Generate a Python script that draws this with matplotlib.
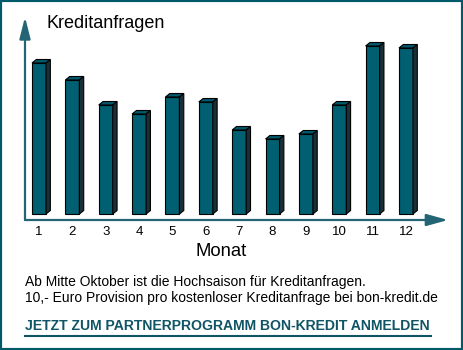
import matplotlib.pyplot as plt
from matplotlib.patches import Polygon, Rectangle
import numpy as np

plt.rcParams['font.family'] = ['Liberation Sans', 'DejaVu Sans']

months = [1, 2, 3, 4, 5, 6, 7, 8, 9, 10, 11, 12]
anfragen = [151, 134, 109, 100, 117, 112, 84, 75, 80, 109, 168, 166]

teal = "#005f70"
side = "#1b2f38"
top = "#00586a"
axis_col = "#236575"

W, H = 463, 350
fig = plt.figure(figsize=(W / 100, H / 100), dpi=100)
fig.patch.set_facecolor("white")

def fx(px):
    return px / W

def fy(py):
    return 1 - py / H

# chart area, pixel box 25..448 x 17..220
ax = fig.add_axes([fx(25), fy(220), fx(448) - fx(25), fy(17) - fy(220)])
ax.set_xlim(0.58, 13.26)
ax.set_ylim(-6, 197)
for s in ax.spines.values():
    s.set_visible(False)
ax.set_yticks([])
ax.set_xticks(months)
ax.set_xticklabels([str(m) for m in months], fontsize=9.5)
ax.tick_params(axis="x", length=0, pad=4)

w = 0.42
dx = 0.13
dy = 3.5
for m, v in zip(months, anfragen):
    x0 = m - w / 2
    ax.add_patch(Rectangle((x0, 0), w, v, facecolor=teal, edgecolor="black", lw=0.8))
    ax.add_patch(Polygon([(x0, v), (x0 + w, v), (x0 + w + dx, v + dy), (x0 + dx, v + dy)],
                         closed=True, facecolor=top, edgecolor="black", lw=0.8))
    ax.add_patch(Polygon([(x0 + w, 0), (x0 + w + dx, dy), (x0 + w + dx, v + dy), (x0 + w, v)],
                         closed=True, facecolor=side, edgecolor="black", lw=0.8))

# axes with arrows
ax.annotate("", xy=(1, 0), xytext=(0, 0), xycoords="axes fraction",
            arrowprops=dict(arrowstyle="-|>,head_length=13,head_width=3.6", mutation_scale=1,
                            color=axis_col, lw=1.6, shrinkA=0, shrinkB=0))
ax.annotate("", xy=(0, 1), xytext=(0, 0), xycoords="axes fraction",
            arrowprops=dict(arrowstyle="-|>,head_length=13,head_width=3.3", mutation_scale=1,
                            color=axis_col, lw=1.6, shrinkA=0, shrinkB=0))

fig.text(fx(46), fy(23), "Kreditanfragen", fontsize=13, va="center", ha="left")
fig.text(fx(221), fy(252), "Monat", fontsize=13.3, va="center", ha="center")
fig.text(fx(25), fy(282), "Ab Mitte Oktober ist die Hochsaison für Kreditanfragen.",
         fontsize=10, va="center", ha="left")
fig.text(fx(25), fy(298), "10,- Euro Provision pro kostenloser Kreditanfrage bei bon-kredit.de",
         fontsize=10, va="center", ha="left")
fig.text(fx(25), fy(326), "JETZT ZUM PARTNERPROGRAMM BON-KREDIT ANMELDEN",
         fontsize=10.1, fontweight="bold", color="#0f5565", va="center", ha="left")
fig.add_artist(plt.Line2D([fx(25), fx(431)], [fy(335.5), fy(335.5)], color="#0f5565", lw=1.5))

# outer frame
fig.add_artist(Rectangle((0, 0), 1, 1, transform=fig.transFigure, fill=False,
                         edgecolor="#005a6a", lw=3))

fig.savefig("out.png", dpi=100)
